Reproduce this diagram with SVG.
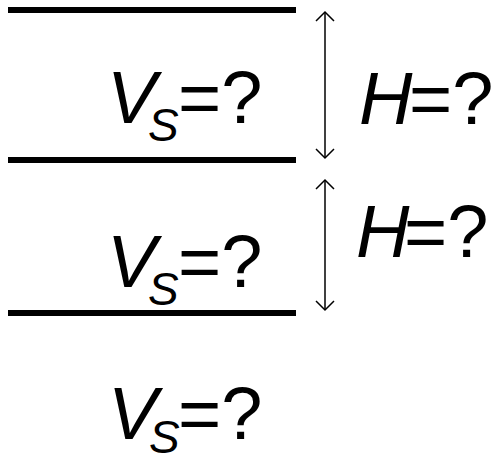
<svg xmlns="http://www.w3.org/2000/svg" width="494" height="459" viewBox="0 0 494 459">
<defs>
<style>
.layer{stroke:#000;stroke-width:6;fill:none}
.dim{stroke:#000;stroke-width:1.5;fill:none}
.t{font-family:"Liberation Sans",Arial,sans-serif;font-size:74px;fill:#000}
.it{font-style:italic}
.sub{font-style:italic;font-size:46px}
</style>
<marker id="ah" markerWidth="20" markerHeight="20" viewBox="-10 -10 20 20" refX="0" refY="0" orient="auto-start-reverse" markerUnits="userSpaceOnUse">
<polyline points="-9,-9 0,0 -9,9" fill="none" stroke="#000" stroke-width="1.5"/>
</marker>
</defs>
<g id="layers">
<line class="layer" x1="8" y1="10" x2="296" y2="10"/>
<line class="layer" x1="8" y1="160" x2="296" y2="160"/>
<line class="layer" x1="8" y1="313" x2="296" y2="313"/>
</g>
<g id="connectors">
<line class="dim" x1="325" y1="12" x2="325" y2="158" marker-start="url(#ah)" marker-end="url(#ah)"/>
<line class="dim" x1="325" y1="180" x2="325" y2="310" marker-start="url(#ah)" marker-end="url(#ah)"/>
</g>
<g id="vs1"><text class="t" x="107" y="123"><tspan class="it">V</tspan><tspan class="sub" x="148" dy="18">S</tspan><tspan x="178" dy="-18">=?</tspan></text></g>
<g id="h1"><text class="t" x="359" y="124"><tspan class="it">H</tspan><tspan x="409">=?</tspan></text></g>
<g id="vs2"><text class="t" x="107" y="287"><tspan class="it">V</tspan><tspan class="sub" x="148" dy="18">S</tspan><tspan x="178" dy="-18">=?</tspan></text></g>
<g id="h2"><text class="t" x="356" y="257"><tspan class="it">H</tspan><tspan x="404">=?</tspan></text></g>
<g id="vs3"><text class="t" x="108" y="439"><tspan class="it">V</tspan><tspan class="sub" x="149" dy="14">S</tspan><tspan x="178" dy="-14">=?</tspan></text></g>
</svg>
